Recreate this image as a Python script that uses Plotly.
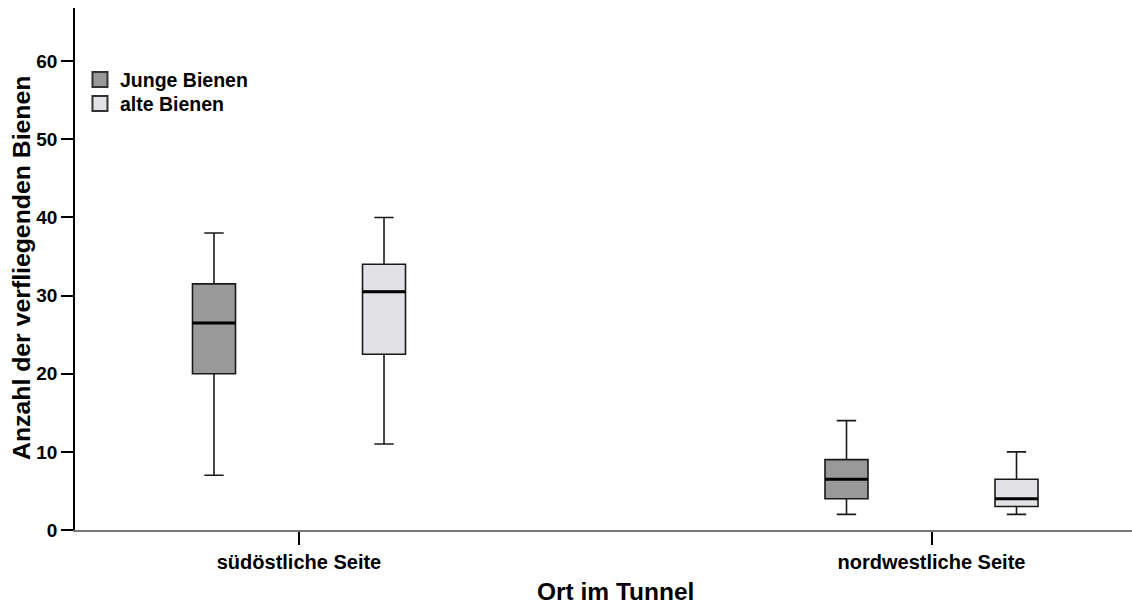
import plotly.graph_objects as go

# ---- data ----
categories = ["südöstliche Seite", "nordwestliche Seite"]
groups = ["Junge Bienen", "alte Bienen"]
# per group: values for [südöstlich, nordwestlich]
lower_whisker = {"Junge Bienen": [7, 2], "alte Bienen": [11, 2]}
q1_vals = {"Junge Bienen": [20, 4], "alte Bienen": [22.5, 3]}
median_vals = {"Junge Bienen": [26.5, 6.5], "alte Bienen": [30.5, 4]}
q3_vals = {"Junge Bienen": [31.5, 9], "alte Bienen": [34, 6.5]}
upper_whisker = {"Junge Bienen": [38, 14], "alte Bienen": [40, 10]}
y_ticks = [0, 10, 20, 30, 40, 50, 60]
x_title = "Ort im Tunnel"
y_title = "Anzahl der verfliegenden Bienen"

fills = {"Junge Bienen": "#999999", "alte Bienen": "#e1e1e6"}
offsets = {"Junge Bienen": -0.1344, "alte Bienen": 0.1344}
legend_ids = {"Junge Bienen": "legend", "alte Bienen": "legend2"}
box_width = 0.068

FONT = "Liberation Sans"

fig = go.Figure()
for g in groups:
    xs = [i + offsets[g] for i in range(len(categories))]
    fig.add_trace(go.Box(
        x=xs, q1=q1_vals[g], median=median_vals[g], q3=q3_vals[g],
        lowerfence=lower_whisker[g], upperfence=upper_whisker[g],
        width=box_width, whiskerwidth=0.45, boxpoints=False,
        fillcolor=fills[g], line=dict(color="#1a1a1a", width=1.6),
        showlegend=False, hoverinfo="skip",
    ))
    # thick median line
    fig.add_trace(go.Box(
        x=xs, q1=median_vals[g], median=median_vals[g], q3=median_vals[g],
        lowerfence=median_vals[g], upperfence=median_vals[g],
        width=box_width, whiskerwidth=0, boxpoints=False,
        fillcolor="rgba(0,0,0,0)", line=dict(color="#000000", width=3),
        showlegend=False, hoverinfo="skip",
    ))
    # legend proxy
    fig.add_trace(go.Scatter(
        x=[None], y=[None], mode="markers", name=g, legend=legend_ids[g],
        marker=dict(symbol="square", size=15, color=fills[g],
                    line=dict(color="#333333", width=2)),
    ))

legend_style = dict(xanchor="left", yanchor="top", bgcolor="rgba(0,0,0,0)",
                    font=dict(size=19.5, weight="bold"), itemsizing="trace")

fig.update_layout(
    width=1132, height=605,
    margin=dict(l=75, r=0, t=8, b=75),
    paper_bgcolor="white", plot_bgcolor="white",
    font=dict(family=FONT, size=19, color="#000000", weight="bold"),
    showlegend=True,
    legend=dict(x=0.0047, y=0.9, **legend_style),
    legend2=dict(x=0.0047, y=0.854, **legend_style),
    annotations=[
        dict(text=x_title, xref="paper", yref="paper", x=0.5114, y=-0.1175,
             xanchor="center", yanchor="middle", showarrow=False,
             font=dict(size=24.5, weight="bold")),
        dict(text=y_title, xref="paper", yref="paper", x=-0.0501, y=0.502,
             xanchor="center", yanchor="middle", showarrow=False, textangle=-90,
             font=dict(size=24.8, weight="bold")),
    ],
)
fig.update_xaxes(
    range=[-(299 - 75) / 632.5, 1 + (1132 - 931.5) / 632.5],
    tickvals=list(range(len(categories))), ticktext=categories,
    ticks="outside", ticklen=13, tickwidth=2, tickcolor="#000000",
    showline=True, linecolor="#777777", linewidth=2,
    showgrid=False, zeroline=False,
    tickfont=dict(size=20, weight="bold"),
    automargin=False,
)
fig.update_yaxes(
    range=[0, 66.8], tickvals=y_ticks,
    ticks="outside", ticklen=12, tickwidth=2, tickcolor="#000000",
    showline=True, linecolor="#000000", linewidth=1.5,
    showgrid=False, zeroline=False,
    tickfont=dict(size=19, weight="bold"),
    automargin=False,
)

fig.write_html("out.html")
